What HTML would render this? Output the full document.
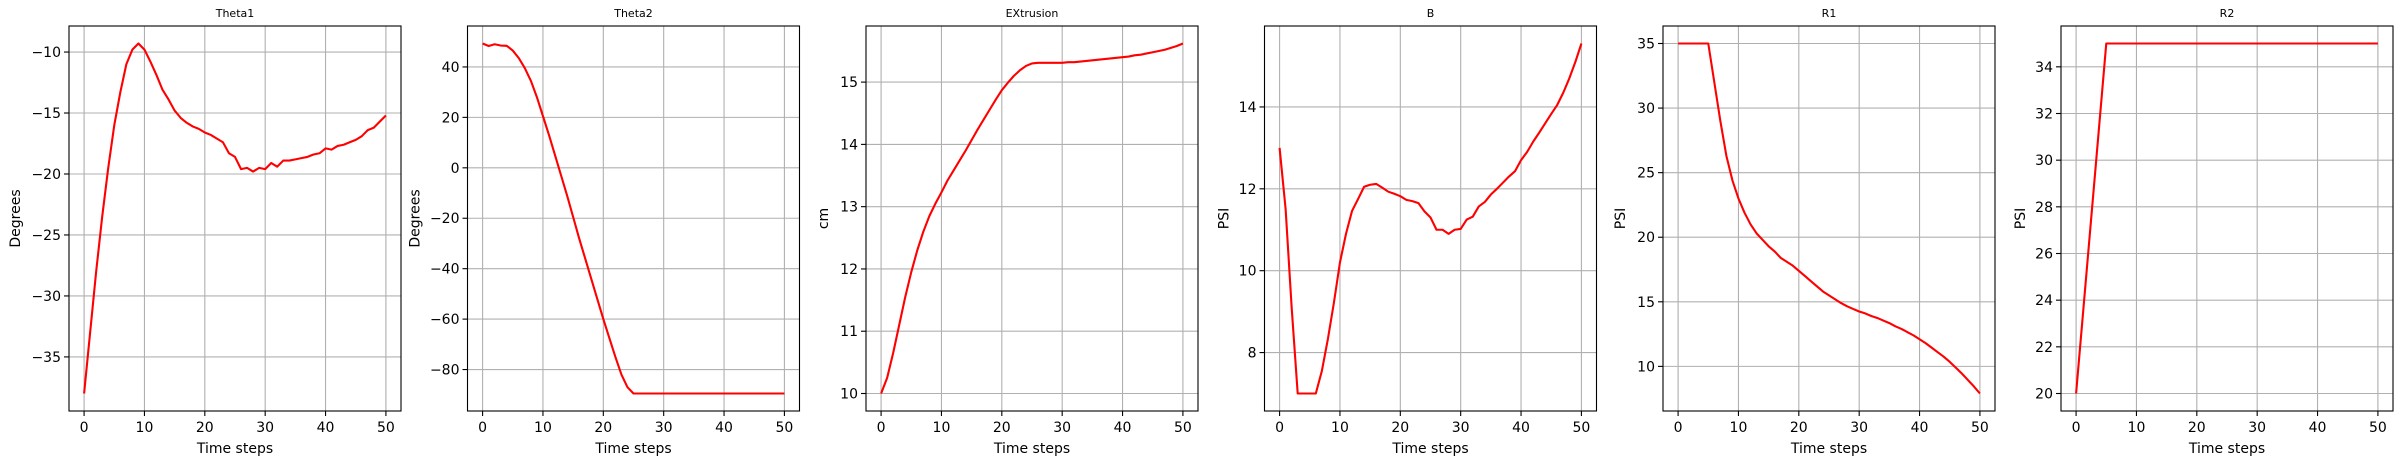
<!DOCTYPE html>
<html><head><meta charset="utf-8">
<style>
html,body{margin:0;padding:0;background:#fff;}
svg{display:block;}
text{font-family:"DejaVu Sans","Liberation Sans",sans-serif;fill:#000;}
</style></head>
<body>
<svg id="fig" width="2403" height="464" viewBox="0 0 2403 464" xmlns="http://www.w3.org/2000/svg"></svg>
<script>
const steps = Array.from({length:51},(_,i)=>i);
const xTicks = [0,10,20,30,40,50];
const titles = ["Theta1","Theta2","EXtrusion","B","R1","R2"];
const yLabels = ["Degrees","Degrees","cm","PSI","PSI","PSI"];
const theta1 = [-38,-33,-28,-23.5,-19.5,-16,-13.3,-11,-9.8,-9.3,-9.8,-10.8,-11.9,-13.1,-13.9,-14.8,-15.4,-15.8,-16.1,-16.3,-16.6,-16.8,-17.1,-17.4,-18.3,-18.6,-19.6,-19.5,-19.8,-19.5,-19.6,-19.1,-19.4,-18.9,-18.9,-18.8,-18.7,-18.6,-18.4,-18.3,-17.9,-18.0,-17.7,-17.6,-17.4,-17.2,-16.9,-16.4,-16.2,-15.7,-15.2];
const theta2 = [49.3,48.3,49,48.5,48.4,46.5,43.5,39.5,34.5,28,20.5,13,5,-3,-11,-19.5,-28,-36,-44,-52,-60,-67.5,-75,-82,-87,-89.5,-89.5,-89.5,-89.5,-89.5,-89.5,-89.5,-89.5,-89.5,-89.5,-89.5,-89.5,-89.5,-89.5,-89.5,-89.5,-89.5,-89.5,-89.5,-89.5,-89.5,-89.5,-89.5,-89.5,-89.5,-89.5];
const extrusion = [10,10.25,10.65,11.1,11.55,11.95,12.3,12.6,12.85,13.05,13.23,13.42,13.58,13.74,13.9,14.07,14.24,14.4,14.56,14.72,14.87,14.99,15.1,15.19,15.26,15.3,15.31,15.31,15.31,15.31,15.31,15.32,15.32,15.33,15.34,15.35,15.36,15.37,15.38,15.39,15.4,15.41,15.43,15.44,15.46,15.48,15.5,15.52,15.55,15.58,15.62];
const bSeries = [13,11.5,9.1,7,7,7,7,7.55,8.33,9.22,10.2,10.9,11.46,11.75,12.05,12.1,12.12,12.03,11.93,11.88,11.82,11.73,11.7,11.65,11.45,11.3,11.0,11.0,10.9,11.0,11.02,11.25,11.32,11.57,11.68,11.86,12.0,12.15,12.3,12.43,12.7,12.9,13.15,13.37,13.6,13.83,14.05,14.35,14.7,15.1,15.55];
const r1 = [35,35,35,35,35,35,32,29,26.3,24.4,23,21.9,21,20.3,19.8,19.3,18.9,18.4,18.1,17.8,17.4,17.0,16.6,16.2,15.8,15.5,15.2,14.9,14.65,14.45,14.25,14.1,13.9,13.75,13.55,13.35,13.1,12.9,12.65,12.4,12.1,11.8,11.45,11.1,10.75,10.35,9.9,9.45,8.95,8.45,7.9];
const r2 = [20,23,26,29,32,35,35,35,35,35,35,35,35,35,35,35,35,35,35,35,35,35,35,35,35,35,35,35,35,35,35,35,35,35,35,35,35,35,35,35,35,35,35,35,35,35,35,35,35,35,35];
const yTicks1 = [-35,-30,-25,-20,-15,-10];
const yTicks2 = [-80,-60,-40,-20,0,20,40];
const yTicks3 = [10,11,12,13,14,15];
const yTicks4 = [8,10,12,14];
const yTicks5 = [10,15,20,25,30,35];
const yTicks6 = [20,22,24,26,28,30,32,34];

const seriesList = [theta1,theta2,extrusion,bSeries,r1,r2];
const tickList = [yTicks1,yTicks2,yTicks3,yTicks4,yTicks5,yTicks6];
const labelOffsets = [53,52,42,40,42,40];
const names = ["theta1","theta2","extrusion","b","r1","r2"];

const NS = "http://www.w3.org/2000/svg";
const svg = document.getElementById('fig');
function mk(tag, attrs, parent){
  const e = document.createElementNS(NS, tag);
  for (const k in attrs) e.setAttribute(k, attrs[k]);
  (parent||svg).appendChild(e);
  return e;
}
const top0 = 26, bot0 = 411, W = 332;
const lefts = [69, 467.5, 866, 1264.5, 1663, 2061];
function fmt(v){ return (v<0?"\u2212":"") + Math.abs(v); }

for (let p=0;p<6;p++){
  const data = seriesList[p];
  const L = lefts[p], R = L+W;
  const g = mk('g',{});
  
  
  const xmin = Math.min(...steps), xmax = Math.max(...steps);
  const xm = (xmax-xmin)*0.05;
  const ymin = Math.min(...data), ymax = Math.max(...data);
  const ym = (ymax-ymin)*0.05;
  const X = v => L + (v-(xmin-xm))/((xmax+xm)-(xmin-xm))*W;
  const Y = v => bot0 - (v-(ymin-ym))/((ymax+ym)-(ymin-ym))*(bot0-top0);
  // grid + ticks
  xTicks.forEach(t=>{
    const x = X(t);
    const gl = mk('line',{x1:x,x2:x,y1:top0,y2:bot0,stroke:'#b0b0b0','stroke-width':1.1},g);
    
    
    mk('line',{x1:x,x2:x,y1:bot0,y2:bot0+5,stroke:'#000','stroke-width':1.1},g);
    const tx = mk('text',{x:x,y:bot0+21,'font-size':14,'text-anchor':'middle'},g);
    tx.textContent = fmt(t);
    
    
  });
  tickList[p].forEach(t=>{
    const y = Y(t);
    const gl = mk('line',{x1:L,x2:R,y1:y,y2:y,stroke:'#b0b0b0','stroke-width':1.1},g);
    
    
    mk('line',{x1:L-5,x2:L,y1:y,y2:y,stroke:'#000','stroke-width':1.1},g);
    const tx = mk('text',{x:L-8,y:y+5,'font-size':14,'text-anchor':'end'},g);
    tx.textContent = fmt(t);
    
    
  });
  // line
  const pts = steps.map((s,i)=>X(s).toFixed(2)+','+Y(data[i]).toFixed(2)).join(' ');
  const pl = mk('polyline',{points:pts,fill:'none',stroke:'#ff0000','stroke-width':2.1,'stroke-linejoin':'round'},g);
  
  
  // frame
  const fr = mk('rect',{x:L,y:top0,width:W,height:bot0-top0,fill:'none',stroke:'#000','stroke-width':1.1},g);
  
  
  // title
  const ti = mk('text',{x:L+W/2,y:17,'font-size':11,'text-anchor':'middle'},g);
  ti.textContent = titles[p];
  
  
  // xlabel
  const xl = mk('text',{x:L+W/2,y:453,'font-size':14,'text-anchor':'middle'},g);
  xl.textContent = 'Time steps';
  
  
  // ylabel
  const cy = (top0+bot0)/2, lx = L-labelOffsets[p];
  const yl = mk('text',{x:lx,y:cy,'font-size':14,'text-anchor':'middle',transform:'rotate(-90 '+lx+' '+cy+')','dominant-baseline':'central'},g);
  yl.textContent = yLabels[p];
  
  
}
</script>
</body></html>
